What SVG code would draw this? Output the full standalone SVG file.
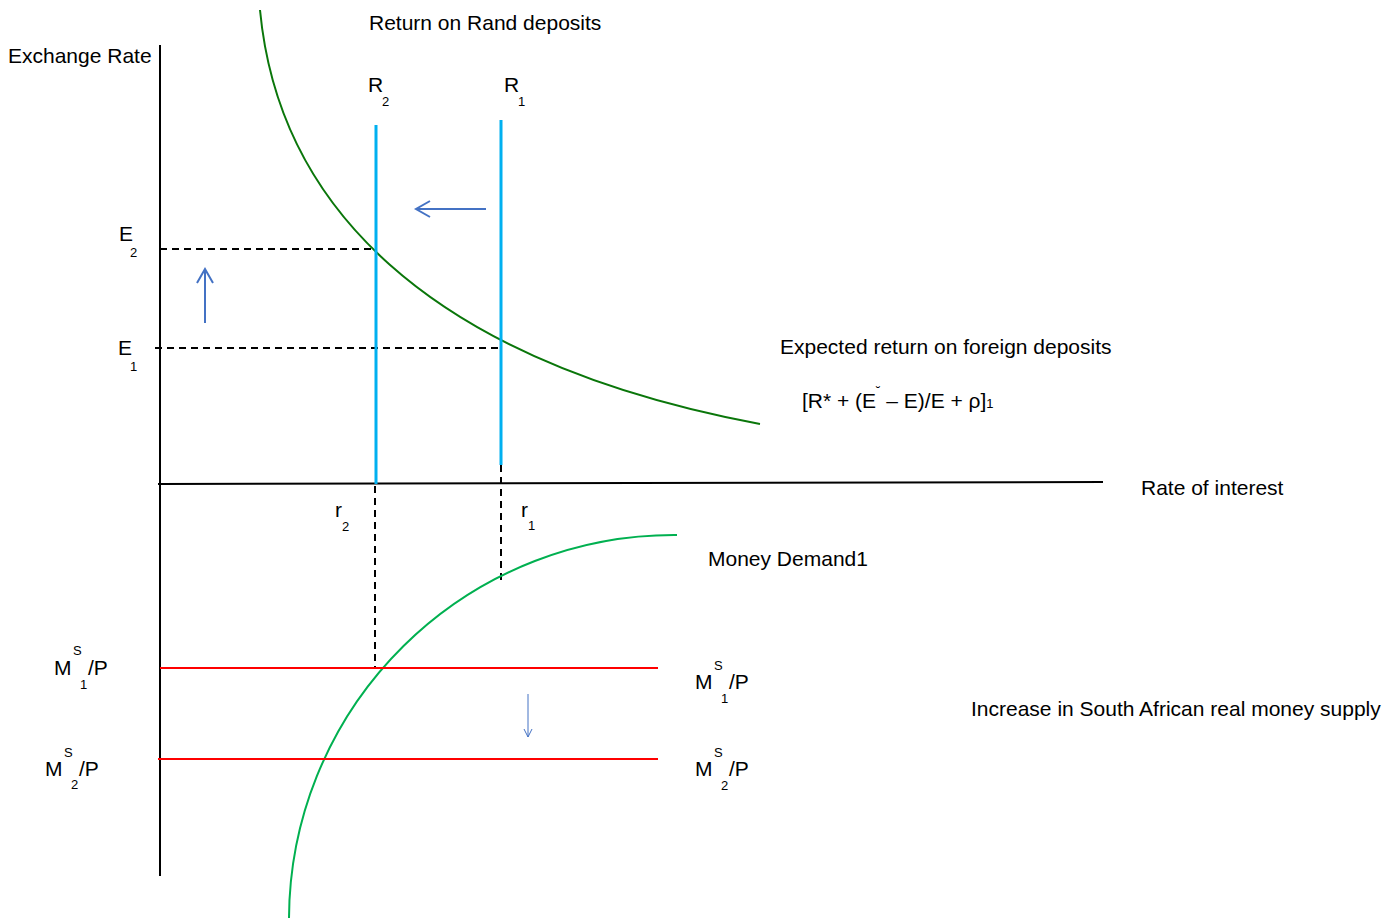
<svg xmlns="http://www.w3.org/2000/svg" width="1398" height="919" viewBox="0 0 1398 919">
<defs>
<style>
text{font-family:"Liberation Sans",Arial,sans-serif;font-size:21px;fill:#000}
.sub{font-size:13px}
.ax{stroke:#000;stroke-width:2;fill:none}
.dash{stroke:#000;stroke-width:2;stroke-dasharray:7,5;fill:none}
.blue{stroke:#00b0f0;stroke-width:3;fill:none}
.red{stroke:#ff0000;stroke-width:2;fill:none}
.arr{stroke:#4472c4;stroke-width:2;fill:none}
</style>
</defs>
<rect width="1398" height="919" fill="#fff"/>
<g id="axes">
<line class="ax" x1="160" y1="45" x2="160" y2="876"/>
<line class="ax" x1="158" y1="484" x2="1103" y2="482"/>
</g>
<g id="connectors">
<line class="dash" x1="160" y1="249" x2="375" y2="249"/>
<line class="dash" x1="155" y1="348" x2="501" y2="348"/>
<line class="dash" x1="375" y1="486" x2="375" y2="668"/>
<line class="dash" x1="501" y1="465" x2="501" y2="582"/>
<path d="M486,209 H416 M430,201 L416,209 L430,217" class="arr"/>
<path d="M205,323 V269 M197,283 L205,269 L213,283" class="arr"/>
<path d="M528,694 V737 M524,729 L528,737 L532,729" stroke="#4472c4" stroke-width="1" fill="none"/>
</g>
<g id="curve-foreign">
<path d="M260,10 C 278,200 420,360 760,424" stroke="#0a760a" stroke-width="2" fill="none"/>
</g>
<g id="R2"><line class="blue" x1="376" y1="125" x2="376" y2="484"/></g>
<g id="R1"><line class="blue" x1="501" y1="120" x2="501" y2="465"/></g>
<g id="money-demand">
<path d="M677,535 A385,385 0 0 0 289,918" stroke="#00b050" stroke-width="2" fill="none"/>
</g>
<g id="MS1"><line class="red" x1="160" y1="668" x2="658" y2="668"/></g>
<g id="MS2"><line class="red" x1="158" y1="759" x2="658" y2="759"/></g>
<g id="labels">
<text x="8" y="63">Exchange Rate</text>
<text x="369" y="30">Return on Rand deposits</text>
<text x="368" y="92">R</text><text class="sub" x="382" y="106">2</text>
<text x="504" y="92">R</text><text class="sub" x="518" y="106">1</text>
<text x="119" y="241">E</text><text class="sub" x="130" y="257">2</text>
<text x="118" y="355">E</text><text class="sub" x="130" y="371">1</text>
<text x="780" y="354">Expected return on foreign deposits</text>
<text x="802" y="408">[R* + (E<tspan class="sub" dy="-12">˘</tspan><tspan dy="12"> – E)/E + ρ]</tspan><tspan class="sub">1</tspan></text>
<text x="1141" y="495">Rate of interest</text>
<text x="335" y="517">r</text><text class="sub" x="342" y="531">2</text>
<text x="521" y="517">r</text><text class="sub" x="528" y="530">1</text>
<text x="708" y="566">Money Demand1</text>
<text x="54" y="675">M</text><text class="sub" x="73" y="655">S</text><text class="sub" x="80" y="689">1</text><text x="88" y="675">/P</text>
<text x="45" y="776">M</text><text class="sub" x="64" y="757">S</text><text class="sub" x="71" y="789">2</text><text x="79" y="776">/P</text>
<text x="695" y="689">M</text><text class="sub" x="714" y="670">S</text><text class="sub" x="721" y="703">1</text><text x="729" y="689">/P</text>
<text x="695" y="776">M</text><text class="sub" x="714" y="757">S</text><text class="sub" x="721" y="790">2</text><text x="729" y="776">/P</text>
<text x="971" y="716">Increase in South African real money supply</text>
</g>
</svg>
